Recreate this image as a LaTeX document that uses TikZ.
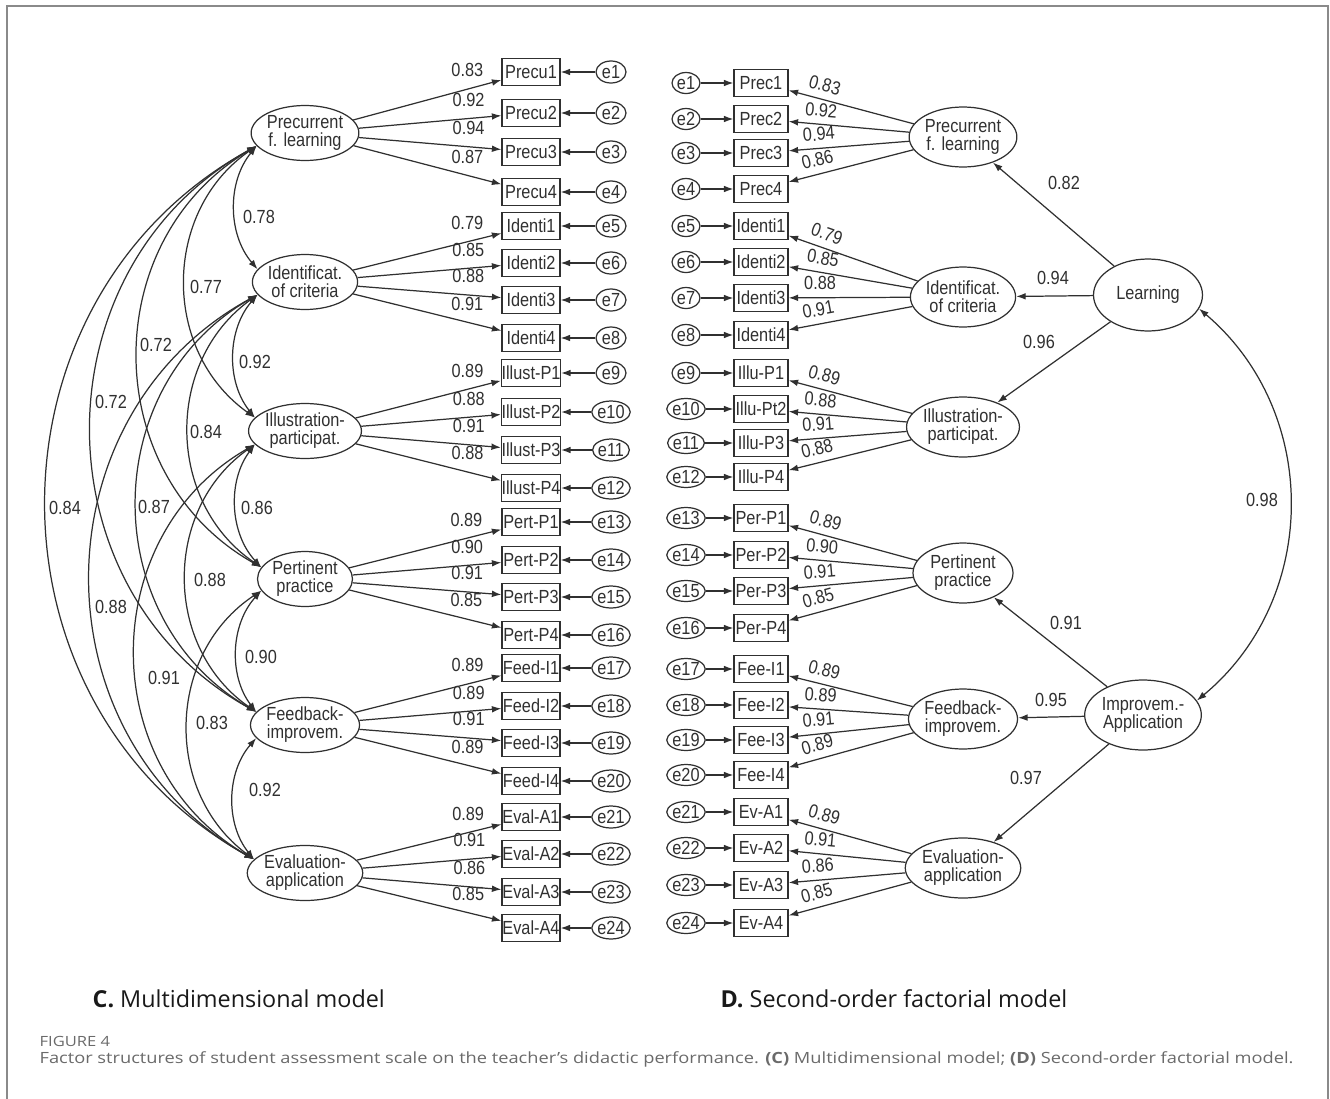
\documentclass[tikz,border=0pt]{standalone}
\usepackage{fontspec}
\setmainfont{Liberation Sans}[FakeStretch=0.86]
\newfontfamily\pie{Open Sans}
\newfontfamily\pieancho{Open Sans}[FakeStretch=1.18]
\usepackage{tikz}
\usetikzlibrary{positioning, arrows.meta, shapes}
\definecolor{trazo}{HTML}{303030}
\definecolor{marco}{HTML}{8A8A8A}
\definecolor{gristxt}{HTML}{6A6A6A}

\begin{document}
\begin{tikzpicture}[x=0.02cm, y=-0.02cm, >={Latex[length=5.4pt, width=3.8pt]}, line width=0.7pt, color=trazo]
  \tikzstyle{lat} = [ellipse, draw, minimum width=1.9cm, minimum height=1.1cm, inner sep=0pt,
    align=center, font=\fontsize{10.8}{10.2}\selectfont]
  \tikzstyle{obs} = [rectangle, draw, minimum width=1.16cm, minimum height=0.53cm, inner sep=0pt,
    font=\fontsize{10.8}{11}\selectfont]
  \tikzstyle{err} = [ellipse, draw, minimum width=0.6cm, minimum height=0.44cm, inner sep=0pt,
    font=\fontsize{10.8}{11}\selectfont]
  \tikzstyle{lab} = [inner sep=1pt, font=\fontsize{10.8}{11}\selectfont]

  \useasboundingbox (0,0) rectangle (1330,1099);
  \draw[marco, line width=1pt] (7,1099) -- (7,6) -- (1328,6) -- (1328,1099);

  % Modelo C: factores
  \foreach \nom/\yy [count=\i] in {{Precurrent\\f. learning}/133, {Identificat.\\of criteria}/282,
      {Illustration-\\participat.}/431, {Pertinent\\practice}/579, {Feedback-\\improvem.}/725,
      {Evaluation-\\application}/873}
    \node[lat] (cf\i) at (305,\yy) {\nom};

  % Modelo C: items y errores
  \foreach \nom/\yy [count=\i] in {Precu1/72, Precu2/113, Precu3/152, Precu4/192, Identi1/226,
      Identi2/263, Identi3/300, Identi4/338, Illust-P1/373, Illust-P2/412, Illust-P3/450,
      Illust-P4/488, Pert-P1/522, Pert-P2/560, Pert-P3/597, Pert-P4/635, Feed-I1/668, Feed-I2/706,
      Feed-I3/743, Feed-I4/781, Eval-A1/817, Eval-A2/854, Eval-A3/892, Eval-A4/928} {
    \node[obs] (cb\i) at (531,\yy) {\nom};
    \node[err] (ce\i) at (611,\yy) {e\i};
    \draw[->] (ce\i) -- (cb\i);
  }

  % Modelo C: cargas
  \foreach \v [count=\i] in {0.83,0.92,0.94,0.87,0.79,0.85,0.88,0.91,0.89,0.88,0.91,0.88,
      0.89,0.90,0.91,0.85,0.89,0.89,0.91,0.89,0.89,0.91,0.86,0.85} {
    \pgfmathtruncatemacro\fac{(\i-1)/4+1}
    \draw[->] (cf\fac) -- node[lab, pos=.77, above=5.5pt] {\v} (cb\i);
  }

  % Modelo C: covarianzas
  \foreach \a/\b/\v/\lx/\ly in {1/2/0.78/259/217, 1/3/0.77/206/287, 1/4/0.72/156/345,
      1/5/0.72/111/402, 1/6/0.84/65/508, 2/3/0.92/255/362, 2/4/0.84/206/432, 2/5/0.87/154/507,
      2/6/0.88/111/607, 3/4/0.86/257/508, 3/5/0.88/210/580, 3/6/0.91/164/678, 4/5/0.90/261/657,
      4/6/0.83/212/723, 5/6/0.92/265/790} {
    \pgfmathtruncatemacro\kk{\b-\a}
    \pgfmathsetmacro\ang{{40,55,60,61,61}[\kk-1]}
    \pgfmathsetmacro\lo{{0.96,1.08,1.13,1.14,1.14}[\kk-1]}
    \draw[<->] (cf\a.195) to[bend right=\ang, looseness=\lo] (cf\b.165)
      node[lab] at (\lx,\ly) {\v};
  }

  % Modelo D: factores
  \foreach \nom/\yy [count=\i] in {{Precurrent\\f. learning}/137, {Identificat.\\of criteria}/297,
      {Illustration-\\participat.}/427, {Pertinent\\practice}/573, {Feedback-\\improvem.}/719,
      {Evaluation-\\application}/868}
    \node[lat, minimum width=2cm, minimum height=1.2cm] (df\i) at (963,\yy) {\nom};
  \node[lat, minimum width=2.18cm, minimum height=1.44cm] (learn) at (1148,295) {Learning};
  \node[lat, minimum width=2.14cm, minimum height=1.4cm] (improv) at (1143,715) {Improvem.-\\Application};

  % Modelo D: items y errores
  \foreach \nom/\yy [count=\i] in {Prec1/83, Prec2/119, Prec3/153, Prec4/189, Identi1/226,
      Identi2/262, Identi3/298, Identi4/335, Illu-P1/373, Illu-Pt2/409, Illu-P3/443, Illu-P4/477,
      Per-P1/518, Per-P2/555, Per-P3/591, Per-P4/628, Fee-I1/669, Fee-I2/705, Fee-I3/740,
      Fee-I4/775, Ev-A1/812, Ev-A2/848, Ev-A3/885, Ev-A4/923} {
    \node[obs, minimum width=1.08cm] (db\i) at (761,\yy) {\nom};
    \node[err, minimum width=0.56cm, minimum height=0.42cm] (de\i) at (686,\yy) {e\i};
    \draw[->] (de\i) -- (db\i);
  }

  % Modelo D: cargas
  \foreach \v [count=\i] in {0.83,0.92,0.94,0.86,0.79,0.85,0.88,0.91,0.89,0.88,0.91,0.88,
      0.89,0.90,0.91,0.85,0.89,0.89,0.91,0.89,0.89,0.91,0.86,0.85} {
    \pgfmathtruncatemacro\fac{(\i-1)/4+1}
    \draw[<-] (db\i) -- node[lab, sloped, pos=.26, above=3pt] {\v} (df\fac);
  }

  % Modelo D: segundo orden
  \draw[->] (learn) -- (df1) node[lab] at (1064,183) {0.82};
  \draw[->] (learn) -- (df2) node[lab] at (1053,278) {0.94};
  \draw[->] (learn) -- (df3) node[lab] at (1039,342) {0.96};
  \draw[->] (improv) -- (df4) node[lab] at (1066,623) {0.91};
  \draw[->] (improv) -- (df5) node[lab] at (1051,700) {0.95};
  \draw[->] (improv) -- (df6) node[lab] at (1026,778) {0.97};
  \draw[<->] (learn.-15) to[bend left=50, looseness=1.04] (improv.15)
    node[lab] at (1262,500) {0.98};

  % Titulos
  \node[anchor=base west, inner sep=0pt, font=\pie\fontsize{13.3}{15}\selectfont, text=black!90]
    (titc) at (92,1007) {\textbf{C.} Multidimensional model};
  \node[anchor=base west, inner sep=0pt, font=\pie\fontsize{13.3}{15}\selectfont, text=black!90]
    (titd) at (720,1007) {\textbf{D.} Second-order factorial model};
  \node[anchor=base west, inner sep=0pt, font=\pieancho\fontsize{8}{9}\selectfont, text=gristxt]
    (fig) at (39,1046) {FIGURE 4};
  \node[anchor=base west, inner sep=0pt, font=\pieancho\fontsize{8.8}{10}\selectfont, text=gristxt]
    (capt) at (39,1063) {Factor structures of student assessment scale on the teacher’s didactic
    performance. \textbf{(C)} Multidimensional model; \textbf{(D)} Second-order factorial model.};
\end{tikzpicture}
\end{document}
